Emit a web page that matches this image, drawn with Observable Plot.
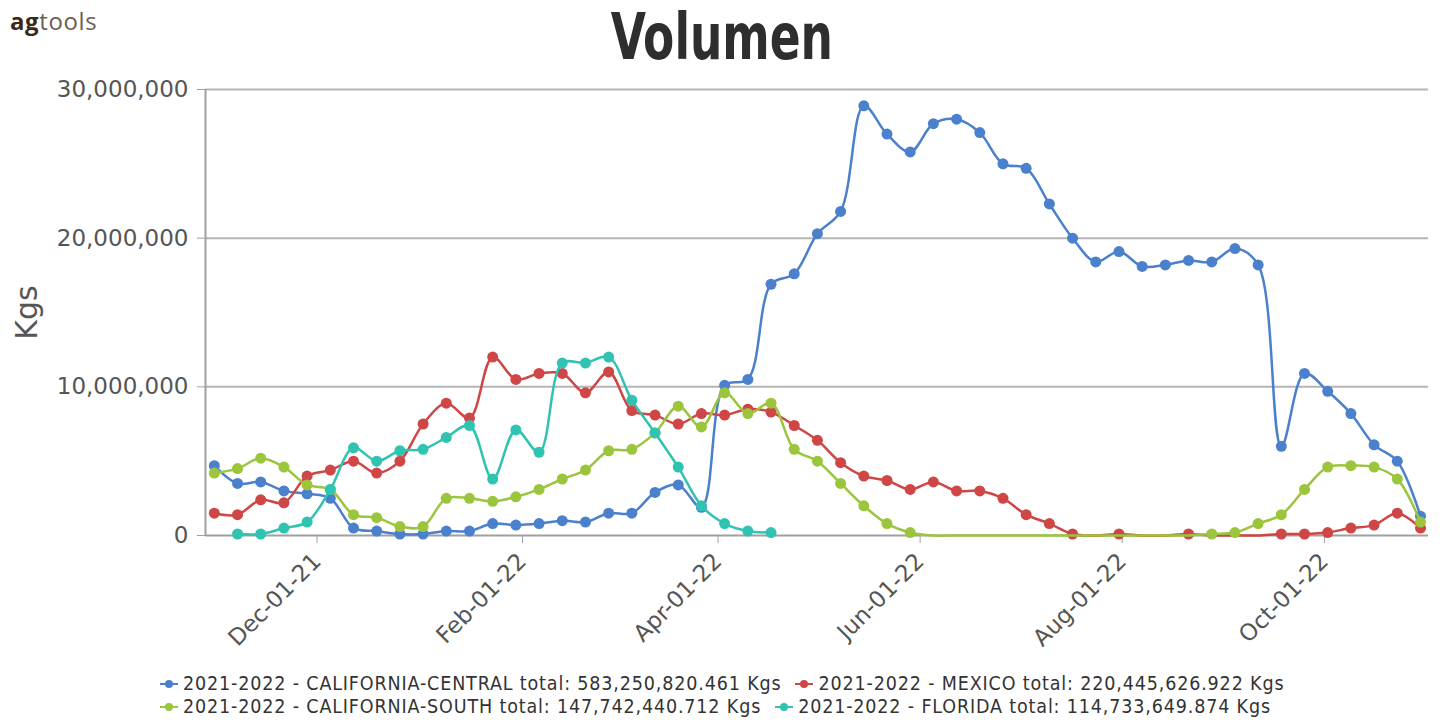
<!DOCTYPE html>
<html><head><meta charset="utf-8">
<script src="https://cdn.jsdelivr.net/npm/d3@7"></script>
<script src="https://cdn.jsdelivr.net/npm/@observablehq/plot@0.6"></script>
<style>
body{margin:0;background:#fff;width:1442px;height:723px;overflow:hidden;font-family:"DejaVu Sans",sans-serif;}
#head{position:relative;height:75px;}
#logo{position:absolute;left:10px;top:4px;font-family:"Open Sans",sans-serif;font-size:24px;color:#6e5d4d;letter-spacing:0.6px;}
#logo b{color:#3a2818;font-weight:700;}
#title{position:absolute;left:0;right:0;top:2px;text-align:center;font-family:"Liberation Sans Narrow","DejaVu Sans Condensed",sans-serif;font-weight:bold;font-size:64px;line-height:70px;color:#2e2e2e;transform:scaleX(0.79);transform-origin:725px 0;}
#chart{height:585px;}
#legend{position:relative;height:63px;font-family:"DejaVu Sans Condensed","DejaVu Sans",sans-serif;font-size:19.5px;letter-spacing:0.85px;color:#333;}
.row{position:absolute;left:160px;display:flex;white-space:nowrap;line-height:20px;}
.item{display:flex;align-items:center;margin-right:14px;}
.sym{position:relative;width:18px;height:12px;margin-right:5px;}
.sym:before{content:"";position:absolute;left:0;right:0;top:5px;height:2px;background:var(--c);}
.sym:after{content:"";position:absolute;left:5px;top:2px;width:8px;height:8px;border-radius:50%;background:var(--c);}
</style></head>
<body>
<div id="head"><div id="logo"><b>ag</b>tools</div><div id="title">Volumen</div></div>
<div id="chart"></div>
<div id="legend"></div>
<script>
// weekly dates (categories)
const dates = ["2021-10-31","2021-11-07","2021-11-14","2021-11-21","2021-11-28","2021-12-05","2021-12-12","2021-12-19","2021-12-26",
"2022-01-02","2022-01-09","2022-01-16","2022-01-23","2022-01-30","2022-02-06","2022-02-13","2022-02-20","2022-02-27",
"2022-03-06","2022-03-13","2022-03-20","2022-03-27","2022-04-03","2022-04-10","2022-04-17","2022-04-24",
"2022-05-01","2022-05-08","2022-05-15","2022-05-22","2022-05-29","2022-06-05","2022-06-12","2022-06-19","2022-06-26",
"2022-07-03","2022-07-10","2022-07-17","2022-07-24","2022-07-31","2022-08-07","2022-08-14","2022-08-21","2022-08-28",
"2022-09-04","2022-09-11","2022-09-18","2022-09-25","2022-10-02","2022-10-09","2022-10-16","2022-10-23","2022-10-30"];

const californiaCentral = [4.7e6,3.5e6,3.6e6,3.0e6,2.8e6,2.5e6,0.5e6,0.3e6,0.1e6,0.1e6,0.3e6,0.3e6,0.8e6,0.7e6,0.8e6,1.0e6,0.9e6,1.5e6,1.5e6,2.9e6,3.4e6,1.9e6,
10.1e6,10.5e6,16.9e6,17.6e6,20.3e6,21.8e6,28.9e6,27.0e6,25.8e6,27.7e6,28.0e6,27.1e6,25.0e6,24.7e6,22.3e6,20.0e6,18.4e6,19.1e6,18.1e6,18.2e6,18.5e6,18.4e6,19.3e6,18.2e6,
6.0e6,10.9e6,9.7e6,8.2e6,6.1e6,5.0e6,1.3e6];
const mexico = [1.5e6,1.4e6,2.4e6,2.2e6,4.0e6,4.4e6,5.0e6,4.2e6,5.0e6,7.5e6,8.9e6,7.9e6,12.0e6,10.5e6,10.9e6,10.9e6,9.6e6,11.0e6,8.4e6,8.1e6,7.5e6,8.2e6,
8.1e6,8.5e6,8.3e6,7.4e6,6.4e6,4.9e6,4.0e6,3.7e6,3.1e6,3.6e6,3.0e6,3.0e6,2.5e6,1.4e6,0.8e6,0.1e6,0,0.1e6,0,0,0.1e6,0,0,0,
0.1e6,0.1e6,0.2e6,0.5e6,0.7e6,1.5e6,0.5e6];
const californiaSouth = [4.2e6,4.5e6,5.2e6,4.6e6,3.4e6,3.1e6,1.4e6,1.2e6,0.6e6,0.6e6,2.5e6,2.5e6,2.3e6,2.6e6,3.1e6,3.8e6,4.4e6,5.7e6,5.8e6,6.9e6,8.7e6,7.3e6,
9.6e6,8.2e6,8.9e6,5.8e6,5.0e6,3.5e6,2.0e6,0.8e6,0.2e6,0,0,0,0,0,0,0,0,0,0,0,0,0.1e6,0.2e6,0.8e6,
1.4e6,3.1e6,4.6e6,4.7e6,4.6e6,3.8e6,0.9e6];
const florida = [null,0.1e6,0.1e6,0.5e6,0.9e6,3.1e6,5.9e6,5.0e6,5.7e6,5.8e6,6.6e6,7.4e6,3.8e6,7.1e6,5.6e6,11.6e6,11.6e6,12.0e6,9.1e6,6.9e6,4.6e6,2.0e6,
0.8e6,0.3e6,0.2e6,null,null,null,null,null,null,null,null,null,null,null,null,null,null,null,null,null,null,null,null,null,
null,null,null,null,null,null,null];

const seriesNames = ["2021-2022 - CALIFORNIA-CENTRAL","2021-2022 - MEXICO","2021-2022 - CALIFORNIA-SOUTH","2021-2022 - FLORIDA"];
const seriesValues = [californiaCentral, mexico, californiaSouth, florida];
const seriesTotals = ["583,250,820.461","220,445,626.922","147,742,440.712","114,733,649.874"];
const seriesColors = ["#4a80cc","#cf4646","#9bc53d","#30c3b2"];
const xTicks = ["2021-12-01","2022-02-01","2022-04-01","2022-06-01","2022-08-01","2022-10-01"];
const yTicks = [0, 10000000, 20000000, 30000000];
const yLabel = "Kgs";

const data = [];
seriesValues.forEach((vals, k) => vals.forEach((v, i) => data.push({date: new Date(dates[i]), value: v, series: seriesNames[k]})));

const marks = [
  Plot.gridY(yTicks.slice(1), {stroke: "#b5b5b5", strokeOpacity: 1, strokeWidth: 2}),
  Plot.ruleY([0], {stroke: "#a0a0a0", strokeWidth: 2}),
  Plot.ruleX([new Date(Date.UTC(2021,9,28,8))], {y1: 0, y2: 30000000, stroke: "#a0a0a0", strokeWidth: 2}),
  Plot.axisY({ticks: yTicks, tickFormat: d3.format(","), tickSize: 8, tickPadding: 9, fontSize: 23, stroke: "#a0a0a0", label: null}),
  Plot.axisX({ticks: xTicks.map(d => new Date(d)), tickFormat: d3.utcFormat("%b-%d-%y"), tickRotate: -45, tickSize: 8, tickPadding: 14, fontSize: 23, stroke: "#a0a0a0", label: null}),
  Plot.text([yLabel], {frameAnchor: "left", dx: -178, rotate: -90, fontSize: 30, fill: "#555", textAnchor: "middle", lineAnchor: "middle"})
];
seriesNames.forEach((name, k) => {
  const sd = data.filter(d => d.series === name);
  marks.push(Plot.line(sd, {x: "date", y: "value", stroke: seriesColors[k], strokeWidth: 2.5, curve: "catmull-rom"}));
  marks.push(Plot.dot(sd.filter(d => d.value > 0), {x: "date", y: "value", fill: seriesColors[k], r: 5.5}));
});

const chart = Plot.plot({
  width: 1442, height: 585,
  marginTop: 14, marginBottom: 125, marginLeft: 205, marginRight: 14,
  style: {fontFamily: "DejaVu Sans", color: "#555", background: "#fff"},
  x: {type: "utc", domain: [new Date(Date.UTC(2021,9,28,8)), new Date(Date.UTC(2022,10,1,10))]},
  y: {domain: [0, 30000000]},
  marks
});
document.getElementById("chart").appendChild(chart);

const legend = document.getElementById("legend");
[[0,1],[2,3]].forEach((idxs, r) => {
  const row = document.createElement("div");
  row.className = "row";
  row.style.top = (r === 0 ? 14 : 37) + "px";
  idxs.forEach(k => {
    const it = document.createElement("div");
    it.className = "item";
    it.innerHTML = `<span class="sym" style="--c:${seriesColors[k]}"></span><span>${seriesNames[k]} total: ${seriesTotals[k]} Kgs</span>`;
    row.appendChild(it);
  });
  legend.appendChild(row);
});
</script>
</body></html>
